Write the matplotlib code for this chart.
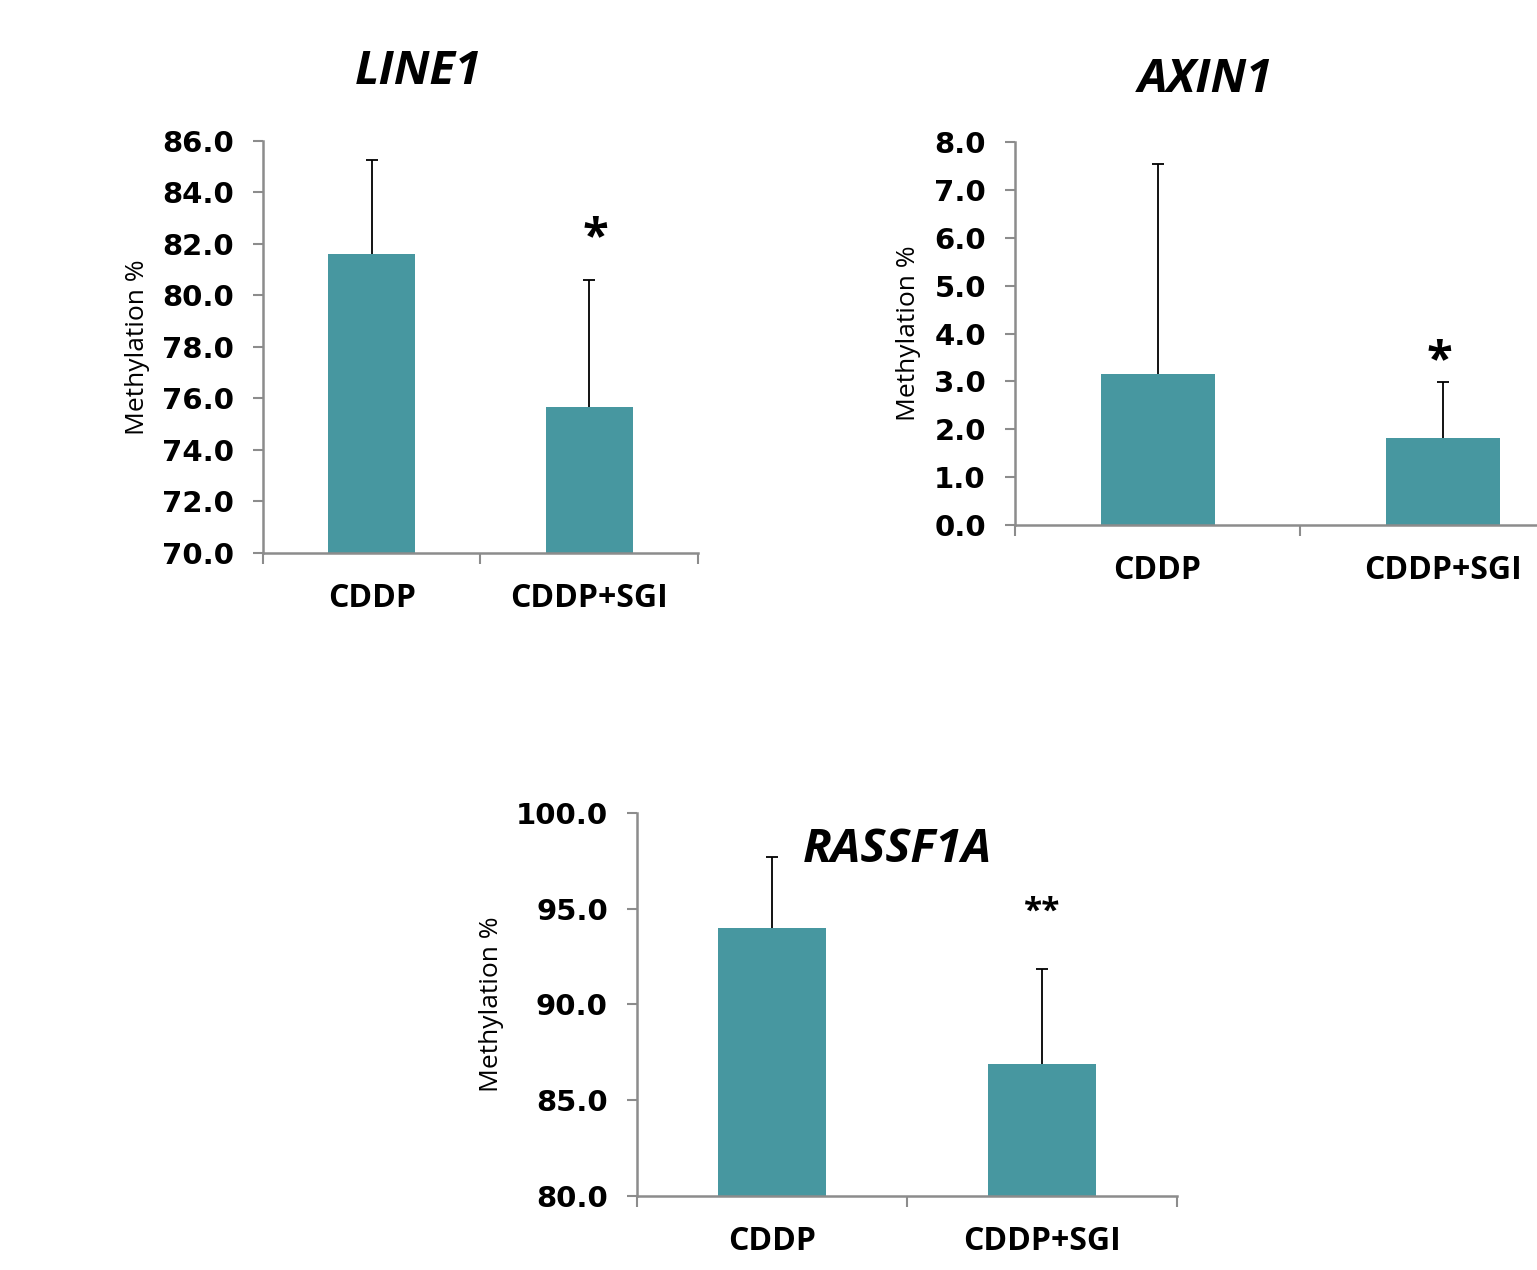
import matplotlib.pyplot as plt
import numpy as np

groups = ['CDDP', 'CDDP+SGI']

line1_mean = [81.6, 75.65]
line1_err = [3.66, 4.95]
axin1_mean = [3.15, 1.82]
axin1_err = [4.4, 1.17]
rassf1a_mean = [94.0, 86.9]
rassf1a_err = [3.7, 4.95]

bar_color = '#4797A0'
spine_color = '#8c8c8c'
font = 'Open Sans'


def draw_panel(ax, means, errs, ylim, ystep, title, title_xy, star, star_xy, star_size, label_x):
    x = np.arange(len(groups))
    # error bars sit behind the bars so only the upper half shows
    ax.errorbar(x, means, yerr=errs, fmt='none',
                ecolor='black', elinewidth=1.3, capsize=4.5, capthick=1.3, zorder=1)
    ax.bar(x, means, width=0.4, color=bar_color, zorder=2)
    ax.set_xlim(-0.5, 1.5)
    ax.set_ylim(ylim)
    yt = np.arange(ylim[0], ylim[1] + ystep / 2, ystep)
    ax.set_yticks(yt)
    ax.set_yticklabels(['%.1f' % v for v in yt], fontsize=21, fontweight='bold', family='DejaVu Sans')
    ax.set_xticks(x)
    ax.set_xticklabels(groups, fontsize=23, fontweight='bold', family=font)
    ax.set_xticks([-0.5, 0.5, 1.5], minor=True)
    ax.tick_params(axis='x', which='major', length=0, pad=21)
    ax.tick_params(axis='x', which='minor', length=8, width=1.5, color=spine_color, direction='out')
    ax.tick_params(axis='y', length=7, width=1.5, color=spine_color, pad=14)
    for s in ['top', 'right']:
        ax.spines[s].set_visible(False)
    for s in ['left', 'bottom']:
        ax.spines[s].set_color(spine_color)
        ax.spines[s].set_linewidth(1.8)
    ax.set_ylabel('Methylation %', fontsize=19, family=font)
    ax.yaxis.set_label_coords(label_x, 0.5)
    plt.figtext(title_xy[0], title_xy[1], title, fontsize=34, fontweight='bold',
                style='italic', family=font, ha='center', va='center')
    ax.text(star_xy[0], star_xy[1], star, fontsize=star_size, fontweight='bold',
            family=font, ha='center', va='center')


fig = plt.figure(figsize=(15.37, 12.70), dpi=100)

ax1 = fig.add_axes([0.1711, 0.5646, 0.2830, 0.3244])
draw_panel(ax1, line1_mean, line1_err, (70, 86), 2, 'LINE1', (418 / 1537, 1 - 71 / 1270),
           '*', (1.03, 82.2), 34, -0.26)

ax2 = fig.add_axes([0.6604, 0.5866, 0.3709, 0.3016])
draw_panel(ax2, axin1_mean, axin1_err, (0, 8), 1, 'AXIN1', (1205 / 1537, 1 - 80 / 1270),
           '*', (0.99, 3.42), 34, -0.165)

ax3 = fig.add_axes([0.4144, 0.0583, 0.3513, 0.3016])
draw_panel(ax3, rassf1a_mean, rassf1a_err, (80, 100), 5, 'RASSF1A', (897 / 1537, 1 - 850 / 1270),
           '**', (1.0, 94.8), 24, -0.246)

plt.savefig('out.png', dpi=100)
